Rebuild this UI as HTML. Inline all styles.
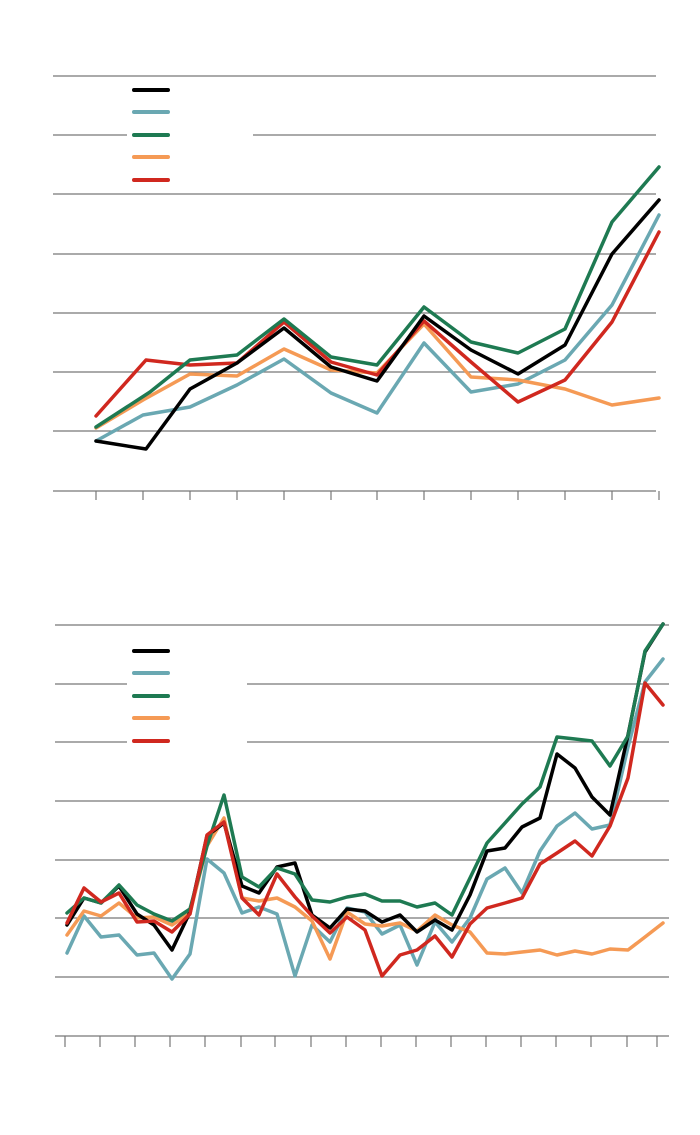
<!DOCTYPE html>
<html><head><meta charset="utf-8"><style>html,body{margin:0;padding:0;background:#fff}svg{display:block}</style></head><body>
<svg width="700" height="1135" viewBox="0 0 700 1135" xmlns="http://www.w3.org/2000/svg">
<g stroke="#777" stroke-width="1.2" fill="none">
<line x1="53" y1="76" x2="656" y2="76"/>
<line x1="53" y1="135" x2="127" y2="135"/><line x1="253" y1="135" x2="656" y2="135"/>
<line x1="53" y1="194" x2="656" y2="194"/>
<line x1="53" y1="254" x2="656" y2="254"/>
<line x1="53" y1="313" x2="656" y2="313"/>
<line x1="53" y1="372" x2="656" y2="372"/>
<line x1="53" y1="431" x2="656" y2="431"/>
<line x1="53" y1="491" x2="656" y2="491"/>
<path d="M96 491v9M143 491v9M190 491v9M237 491v9M284 491v9M331 491v9M377 491v9M424 491v9M471 491v9M518 491v9M565 491v9M612 491v9M659 491v9"/>
<line x1="55" y1="625" x2="669" y2="625"/>
<line x1="55" y1="684" x2="127" y2="684"/><line x1="247" y1="684" x2="669" y2="684"/>
<line x1="55" y1="742" x2="127" y2="742"/><line x1="247" y1="742" x2="669" y2="742"/>
<line x1="55" y1="801" x2="669" y2="801"/>
<line x1="55" y1="860" x2="669" y2="860"/>
<line x1="55" y1="918" x2="669" y2="918"/>
<line x1="55" y1="977" x2="669" y2="977"/>
<line x1="55" y1="1036" x2="669" y2="1036"/>
<path d="M65 1036v11M100 1036v11M135 1036v11M170 1036v11M205 1036v11M241 1036v11M275 1036v11M311 1036v11M346 1036v11M381 1036v11M416 1036v11M451 1036v11M486 1036v11M521 1036v11M556 1036v11M591 1036v11M627 1036v11M657 1036v11"/>
</g>
<g stroke-width="4" stroke-linecap="round" fill="none">
<path stroke="#000" d="M134 90h34M134 651h34"/>
<path stroke="#6aa8b2" d="M134 112h34M134 673h34"/>
<path stroke="#1e7a52" d="M134 135h34M134 696h34"/>
<path stroke="#f59a55" d="M134 157h34M134 718h34"/>
<path stroke="#d0281f" d="M134 180h34M134 741h34"/>
</g>
<g stroke-width="3.5" stroke-linejoin="round" stroke-linecap="round" fill="none">
<polyline stroke="#6aa8b2" points="96,441 143,415 190,407 237,385 284,359 331,393 377,413 424,343 471,392 518,384 565,360 612,305 659,215"/>
<polyline stroke="#f59a55" points="96,428 143,400 190,374 237,376 284,349 331,370 377,373 424,324 471,377 518,380 565,389 612,405 659,398"/>
<polyline stroke="#d0281f" points="96,416 146,360 190,365 237,363 284,322 331,362 377,375 424,321 471,362 518,402 565,380 612,322 659,232"/>
<polyline stroke="#000" points="96,441 146,449 190,389 237,363 284,328 331,367 377,381 424,316 471,350 518,374 565,345 612,254 659,200"/>
<polyline stroke="#1e7a52" points="96,427 150,392 190,360 237,355 284,319 331,357 377,365 424,307 471,342 518,353 565,329 612,222 659,167"/>

<polyline stroke="#6aa8b2" points="67,953 84,916 101,937 119,935 137,955 154,953 172,979 190,954 207,859 224,873 242,913 259,907 277,914 295,976 312,925 330,942 347,908 365,912 382,934 400,925 417,965 435,922 452,942 470,918 487,879 505,868 522,893 540,851 557,826 575,813 592,829 610,825 628,747 645,682 663,659"/>
<polyline stroke="#f59a55" points="67,935 84,911 101,916 119,903 137,918 154,917 172,925 190,913 207,846 224,818 242,898 259,901 277,898 295,907 312,921 330,959 347,912 365,924 382,926 400,923 417,931 435,915 452,925 470,932 487,953 505,954 522,952 540,950 557,955 575,951 592,954 610,949 628,950 645,937 663,923"/>
<polyline stroke="#000" points="67,925 84,898 101,903 119,886 137,914 154,925 172,950 190,912 207,836 224,823 242,886 259,893 277,867 295,863 312,915 330,928 347,909 365,911 382,922 400,915 417,932 435,920 452,930 470,895 487,851 505,848 522,827 540,818 557,754 575,768 592,797 610,815 628,735 645,652 663,624"/>
<polyline stroke="#1e7a52" points="67,913 84,898 101,903 119,885 137,905 154,914 172,921 190,909 207,846 224,795 242,877 259,887 277,868 295,874 312,900 330,902 347,897 365,894 382,901 400,901 417,907 435,903 452,915 470,878 487,843 505,823 522,804 540,787 557,737 575,739 592,741 610,766 628,736 645,651 663,624"/>
<polyline stroke="#d0281f" points="67,923 84,888 101,902 119,893 137,922 154,921 172,932 190,914 207,835 224,822 242,898 259,915 277,874 295,897 312,916 330,933 347,917 365,930 382,976 400,955 417,950 435,936 452,957 470,924 487,908 505,903 522,898 540,864 557,853 575,841 592,856 610,826 628,778 645,683 663,705"/>
</g>
</svg>
</body></html>
